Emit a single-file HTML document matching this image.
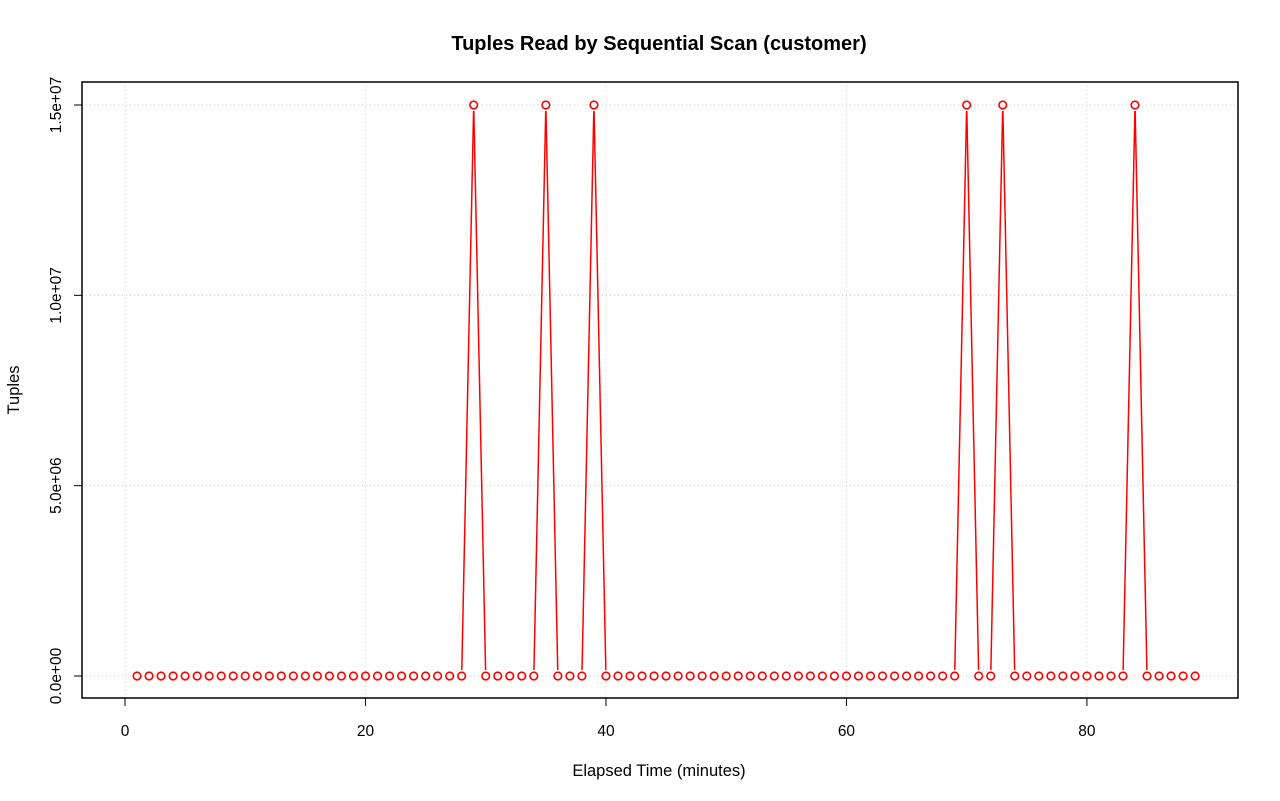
<!DOCTYPE html>
<html><head><meta charset="utf-8"><style>
html,body{margin:0;padding:0;background:#fff;}
svg{display:block;font-family:"Liberation Sans",Arial,sans-serif;}
</style></head><body>
<svg id="chart" width="1280" height="801" viewBox="0 0 1280 801">
<text x="659" y="50" text-anchor="middle" font-size="20" font-weight="bold">Tuples Read by Sequential Scan (customer)</text>
<text x="659" y="776" text-anchor="middle" font-size="16.5">Elapsed Time (minutes)</text>
<text transform="translate(19,390) rotate(-90)" text-anchor="middle" font-size="16.5">Tuples</text>
<g id="grid"></g><g id="axes"></g><g id="series"></g>
<rect x="82" y="82" width="1156" height="616" fill="none" stroke="#000" stroke-width="1.5"/>
</svg>
<script>
const xTicks=[0,20,40,60,80];
const yTicks=[0,5000000,10000000,15000000];
const yTickLabels=["0.0e+00","5.0e+06","1.0e+07","1.5e+07"];
const peakMinutes=[29,35,39,70,73,84];
const peakValues=[15000000,15000000,15000000,15000000,15000000,15000000];
const minutes=[];const tuples=[];
for(let m=1;m<=89;m++){minutes.push(m);const i=peakMinutes.indexOf(m);tuples.push(i>=0?peakValues[i]:0);}
const NS="http://www.w3.org/2000/svg";
const xs=v=>125+v*12.024;
const ys=v=>676-v*(571/15000000);
function mk(t,a,p){const e=document.createElementNS(NS,t);for(const k in a)e.setAttribute(k,a[k]);p.appendChild(e);return e;}
const grid=document.getElementById('grid'),axes=document.getElementById('axes'),ser=document.getElementById('series');
xTicks.forEach((t,i)=>{
const g=mk('line',{x1:xs(t),x2:xs(t),y1:82,y2:698,stroke:'#ccc','stroke-dasharray':'1,3'},grid);


const tk=mk('line',{x1:xs(t),x2:xs(t),y1:698,y2:706,stroke:'#000'},axes);


const l=mk('text',{x:xs(t),y:736,'text-anchor':'middle','font-size':15.5},axes);l.textContent=t;


});
yTicks.forEach((t,i)=>{
const g=mk('line',{x1:82,x2:1238,y1:ys(t),y2:ys(t),stroke:'#ccc','stroke-dasharray':'1,3'},grid);


const tk=mk('line',{x1:74,x2:82,y1:ys(t),y2:ys(t),stroke:'#000'},axes);


const l=mk('text',{transform:`translate(61,${ys(t)}) rotate(-90)`,'text-anchor':'middle','font-size':15.5},axes);l.textContent=yTickLabels[i];


});
for(let i=0;i<minutes.length-1;i++){
const x1=xs(minutes[i]),y1=ys(tuples[i]),x2=xs(minutes[i+1]),y2=ys(tuples[i+1]);
const dx=x2-x1,dy=y2-y1,d=Math.hypot(dx,dy),r=6;
if(d<=2*r)continue;
const s=mk('line',{x1:x1+dx*r/d,y1:y1+dy*r/d,x2:x2-dx*r/d,y2:y2-dy*r/d,stroke:'#f00','stroke-width':1.5},ser);


}
minutes.forEach((m,i)=>{
const c=mk('circle',{cx:xs(m),cy:ys(tuples[i]),r:3.8,fill:'none',stroke:'#f00','stroke-width':1.6},ser);


});
</script>
</body></html>
